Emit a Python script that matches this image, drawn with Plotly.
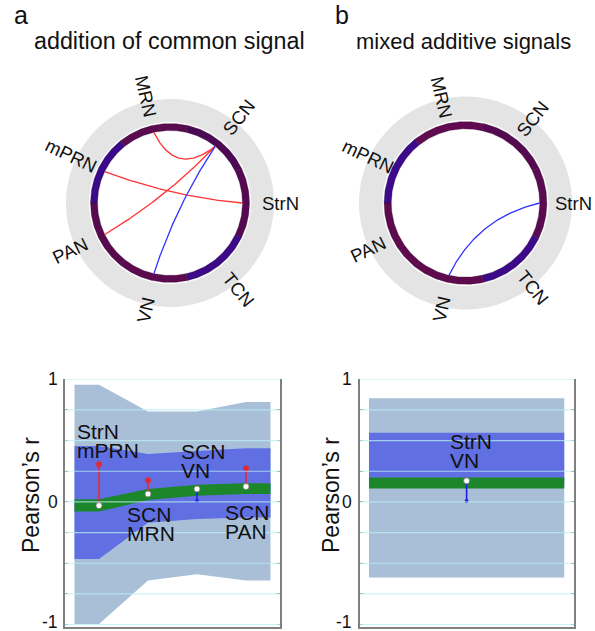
import numpy as np
import plotly.graph_objects as go

W, H = 595, 631
FONT = "Liberation Sans, Arial, sans-serif"

# ---------------- circle (chord) data ----------------
node_names = ["StrN", "SCN", "MRN", "mPRN", "PAN", "VN", "TCN"]  # counter-clockwise from 3 o'clock
node_colors_a = ["#540a50", "#4c0a54", "#5a0a4e", "#3a0a8a", "#580a4e", "#5c0a4e", "#3c0a88"]
node_colors_b = ["#5a0a50", "#540a50", "#620a50", "#3c0a8a", "#5e0a4e", "#600a4e", "#3c0a88"]
chords_a_src = ["MRN", "SCN", "mPRN", "SCN"]
chords_a_dst = ["SCN", "PAN", "StrN", "VN"]
chords_a_col = ["#ff3333", "#ff3333", "#ff3333", "#3333ff"]
chords_b_src = ["StrN"]
chords_b_dst = ["VN"]
chords_b_col = ["#3333ff"]

# ---------------- correlation panel data ----------------
pos_a = [1, 2, 3, 4]
label_top_a = ["StrN", "SCN", "SCN", "SCN"]
label_bot_a = ["mPRN", "MRN", "VN", "PAN"]
light_hi_a = [0.955, 0.737, 0.737, 0.815]
light_lo_a = [-0.996, -0.640, -0.590, -0.640]
mid_hi_a = [0.457, 0.390, 0.416, 0.438]
mid_lo_a = [-0.465, -0.169, -0.139, -0.128]
green_hi_a = [0.022, 0.106, 0.141, 0.152]
green_lo_a = [-0.079, 0.016, 0.051, 0.065]
observed_a = [-0.030, 0.065, 0.106, 0.125]
common_a = [0.308, 0.177, 0.008, 0.272]
common_sign_a = ["+", "+", "-", "+"]

pos_b = [1]
label_top_b = ["StrN"]
label_bot_b = ["VN"]
light_hi_b = [0.845]
light_lo_b = [-0.617]
mid_hi_b = [0.565]
mid_lo_b = [0.150]
green_hi_b = [0.200]
green_lo_b = [0.109]
observed_b = [0.172]
common_b = [0.008]
common_sign_b = ["-"]

grid_levels = [-1, -0.75, -0.5, -0.25, 0, 0.25, 0.5, 0.75, 1]
tick_values = [1, 0, -1]
tick_text = ["1", "0", "-1"]

# ---------------- layout constants ----------------
R_CHORD, R_IN, R_OUT, R_WHITE, R_GREY = 72.5, 72.5, 79.5, 81.0, 104.0
CHORD_K = 0.4
SEG = 360 / len(node_names)

LIGHT = "#a9bfd8"
MID = "#6070e2"
GREEN = "#1b872a"
RED = "#e02a38"
BLUE = "#2020e8"
GRID = "rgba(185,238,243,0.75)"
AX = "#808080"

fig = go.Figure()


def px2paper(x, y):
    return x / W, 1 - y / H


def arc(r, t0, t1, n=80):
    t = np.radians(np.linspace(t0, t1, n))
    return r * np.cos(t), r * np.sin(t)


def draw_circle(xa, ya, colors, src, dst, cols, font_size, r_label):
    gx, gy = arc(R_GREY, 0, 360, 240)
    fig.add_trace(go.Scatter(x=gx, y=gy, fill="toself", fillcolor="#e4e4e4", mode="none",
                             xaxis=xa, yaxis=ya, hoverinfo="skip", showlegend=False))
    wx, wy = arc(R_WHITE, 0, 360, 240)
    fig.add_trace(go.Scatter(x=wx, y=wy, fill="toself", fillcolor="white", mode="none",
                             xaxis=xa, yaxis=ya, hoverinfo="skip", showlegend=False))
    for i, (name, c) in enumerate(zip(node_names, colors)):
        th = i * SEG
        ox, oy = arc(R_OUT, th - SEG / 2, th + SEG / 2)
        ix, iy = arc(R_IN, th + SEG / 2, th - SEG / 2)
        fig.add_trace(go.Scatter(x=np.r_[ox, ix, ox[:1]], y=np.r_[oy, iy, oy[:1]], fill="toself",
                                 fillcolor=c, mode="lines", line=dict(color="rgba(45,0,45,0.5)", width=0.6),
                                 xaxis=xa, yaxis=ya, hoverinfo="skip", showlegend=False))
        lx, ly = r_label * np.cos(np.radians(th)), r_label * np.sin(np.radians(th))
        ang = -th if np.cos(np.radians(th)) > 0 else 180 - th
        ang = (ang + 180) % 360 - 180
        fig.add_annotation(x=lx, y=ly, xref=xa, yref=ya, text=name, showarrow=False,
                           textangle=ang, font=dict(family=FONT, size=font_size, color="#111"),
                           xanchor="center", yanchor="middle")
    for s, d, c in zip(src, dst, cols):
        a0 = np.radians(node_names.index(s) * SEG)
        a1 = np.radians(node_names.index(d) * SEG)
        p0 = np.array([np.cos(a0), np.sin(a0)]) * R_CHORD
        p2 = np.array([np.cos(a1), np.sin(a1)]) * R_CHORD
        cp = CHORD_K * (p0 + p2) / 2
        t = np.linspace(0, 1, 100)[:, None]
        pts = (1 - t) ** 2 * p0 + 2 * (1 - t) * t * cp + t ** 2 * p2
        fig.add_trace(go.Scatter(x=pts[:, 0], y=pts[:, 1], mode="lines", line=dict(color=c, width=1.3),
                                 xaxis=xa, yaxis=ya, hoverinfo="skip", showlegend=False))


draw_circle("x3", "y3", node_colors_a, chords_a_src, chords_a_dst, chords_a_col, 18.5, 110.0)
draw_circle("x4", "y4", node_colors_b, chords_b_src, chords_b_dst, chords_b_col, 18.5, 105.5)


def band(pos, hi, lo, color, xa, ya):
    xs = [pos[0] - 0.5] + list(pos) + [pos[-1] + 0.5]
    his = [hi[0]] + list(hi) + [hi[-1]]
    los = [lo[0]] + list(lo) + [lo[-1]]
    fig.add_trace(go.Scatter(x=xs + xs[::-1], y=his + los[::-1], fill="toself", fillcolor=color,
                             mode="none", xaxis=xa, yaxis=ya, hoverinfo="skip", showlegend=False))


def panel(pos, lhi, llo, mhi, mlo, ghi, glo, obs, com, sign, xa, ya):
    band(pos, lhi, llo, LIGHT, xa, ya)
    band(pos, mhi, mlo, MID, xa, ya)
    band(pos, ghi, glo, GREEN, xa, ya)
    for p, o, c, sg in zip(pos, obs, com, sign):
        col = RED if sg == "+" else BLUE
        fig.add_trace(go.Scatter(x=[p, p], y=[o, c], mode="lines", line=dict(color=col, width=1.6),
                                 xaxis=xa, yaxis=ya, hoverinfo="skip", showlegend=False))
        fig.add_trace(go.Scatter(x=[p], y=[c], mode="markers",
                                 marker=dict(color=col, size=6 if sg == "+" else 4, line=dict(width=0)),
                                 xaxis=xa, yaxis=ya, hoverinfo="skip", showlegend=False))
        fig.add_trace(go.Scatter(x=[p], y=[o], mode="markers",
                                 marker=dict(color="white", size=6, line=dict(color="#777", width=0.8)),
                                 xaxis=xa, yaxis=ya, hoverinfo="skip", showlegend=False))


panel(pos_a, light_hi_a, light_lo_a, mid_hi_a, mid_lo_a, green_hi_a, green_lo_a,
      observed_a, common_a, common_sign_a, "x", "y")
panel(pos_b, light_hi_b, light_lo_b, mid_hi_b, mid_lo_b, green_hi_b, green_lo_b,
      observed_b, common_b, common_sign_b, "x2", "y2")

for xr, yr in (("x", "y"), ("x2", "y2")):
    for g in grid_levels:
        fig.add_shape(type="line", xref=f"{xr} domain", yref=yr, x0=0, x1=1, y0=g, y1=g,
                      line=dict(color=GRID, width=1.2), layer="above")

# tick labels as annotations (so the bottom "-1" is not dropped at the figure edge)
for yr, xpx in (("y", 60), ("y2", 354)):
    for v, t in zip(tick_values, tick_text):
        fig.add_annotation(x=xpx / W, y=v, xref="paper", yref=yr, text=t, showarrow=False,
                           xanchor="right", yanchor="middle", yshift=3 if v < 0 else 0,
                           font=dict(family=FONT, size=17.5, color="#111"))

# pair labels
LBL = 21
LINE_GAP = 0.148
label_x_a = [0.51, 1.53, 2.64, 3.53]
label_y_a = [0.571, -0.106, 0.408, -0.090]
for x0, y0, t1, t2 in zip(label_x_a, label_y_a, label_top_a, label_bot_a):
    for k, t in enumerate((t1, t2)):
        fig.add_annotation(x=x0, y=y0 - k * LINE_GAP, xref="x", yref="y", text=t, showarrow=False,
                           xanchor="left", yanchor="middle", font=dict(family=FONT, size=LBL, color="#111"))
label_x_b = [0.905]
label_y_b = [0.490]
for x0, y0, t1, t2 in zip(label_x_b, label_y_b, label_top_b, label_bot_b):
    for k, t in enumerate((t1, t2)):
        fig.add_annotation(x=x0, y=y0 - k * LINE_GAP * 1.05, xref="x2", yref="y2", text=t, showarrow=False,
                           xanchor="left", yanchor="middle", font=dict(family=FONT, size=LBL, color="#111"))

for xpx in (31, 331):
    px, py = px2paper(xpx, 495)
    fig.add_annotation(x=px, y=py, xref="paper", yref="paper", text="Pearson\u2019s r", textangle=-90,
                       showarrow=False, xanchor="center", yanchor="middle",
                       font=dict(family=FONT, size=23, color="#111"))

for (xpx, ypx, txt, sz) in ((12, 15, "a", 25), (333, 15, "b", 25),
                            (32, 41, "addition of common signal", 23.3),
                            (354, 41, "mixed additive signals", 22)):
    px, py = px2paper(xpx, ypx)
    fig.add_annotation(x=px, y=py, xref="paper", yref="paper", text=txt, showarrow=False,
                       xanchor="left", yanchor="middle", font=dict(family=FONT, size=sz, color="#111"))

yaxis_common = dict(range=[-1.02, 1.0], tickvals=grid_levels, showticklabels=False,
                    ticks="inside", ticklen=3, tickcolor=AX, showgrid=False, zeroline=False,
                    showline=True, linecolor=AX, linewidth=1.5, mirror="ticks", fixedrange=True)
xaxis_common = dict(showgrid=False, zeroline=False, showticklabels=False, ticks="",
                    showline=True, linecolor=AX, linewidth=1.5, mirror=False)

hidden = dict(visible=False, showgrid=False, zeroline=False)
fig.update_layout(
    width=W, height=H, margin=dict(l=0, r=0, t=0, b=0),
    paper_bgcolor="white", plot_bgcolor="rgba(0,0,0,0)", showlegend=False,
    xaxis=dict(domain=[65 / W, 280 / W], range=[0.306, 4.694], anchor="y", **xaxis_common),
    yaxis=dict(domain=[1 - 627 / H, 1 - 379.3 / H], anchor="x", **yaxis_common),
    xaxis2=dict(domain=[360 / W, 574 / W], range=[0.454, 1.55], anchor="y2", **xaxis_common),
    yaxis2=dict(domain=[1 - 627 / H, 1 - 379.3 / H], anchor="x2", **yaxis_common),
    xaxis3=dict(domain=[40 / W, 300 / W], range=[-130, 130], anchor="y3", **hidden),
    yaxis3=dict(domain=[1 - 333 / H, 1 - 73 / H], range=[-130, 130], anchor="x3", **hidden),
    xaxis4=dict(domain=[340.5 / W, 590.5 / W], range=[-122.1, 122.1], anchor="y4", **hidden),
    yaxis4=dict(domain=[1 - 328 / H, 1 - 78 / H], range=[-122.1, 122.1], anchor="x4", **hidden),
)

fig.write_html("out.html")
